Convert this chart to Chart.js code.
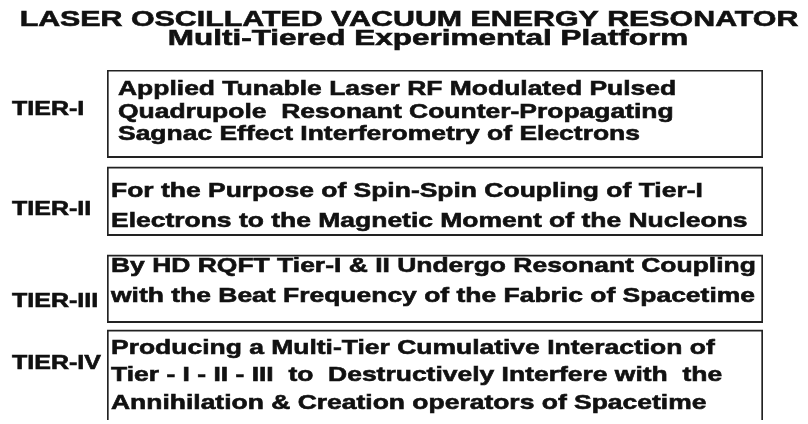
<!DOCTYPE html>
<html>
<head>
<meta charset="utf-8">
<style>
  html, body { margin: 0; padding: 0; background: #fff; }
  #wrap { width: 808px; height: 424px; }
</style>
<script src="https://cdn.jsdelivr.net/npm/chart.js@4/dist/chart.umd.min.js"></script>
</head>
<body>
<div id="wrap"><canvas id="c"></canvas></div>
<script>
// Tiered platform diagram drawn as floating horizontal bars (one box per tier).
const TITLE = "LASER OSCILLATED VACUUM ENERGY RESONATOR";
const SUBTITLE = "Multi-Tiered Experimental Platform";

const tiers = ["TIER-I", "TIER-II", "TIER-III", "TIER-IV"];
const spanStart = [0, 0, 0, 0];
const spanEnd = [100, 100, 100, 100];

const tier1Lines = [
  "Applied Tunable Laser RF Modulated Pulsed",
  "Quadrupole  Resonant Counter-Propagating",
  "Sagnac Effect Interferometry of Electrons",
];
const tier2Lines = [
  "For the Purpose of Spin-Spin Coupling of Tier-I",
  "Electrons to the Magnetic Moment of the Nucleons",
];
const tier3Lines = [
  "By HD RQFT Tier-I & II Undergo Resonant Coupling",
  "with the Beat Frequency of the Fabric of Spacetime",
];
const tier4Lines = [
  "Producing a Multi-Tier Cumulative Interaction of",
  "Tier - I - II - III  to  Destructively Interfere with  the",
  "Annihilation & Creation operators of Spacetime",
];
const boxLines = [tier1Lines, tier2Lines, tier3Lines, tier4Lines];

// ---- styles ----
const FONT = '"Liberation Sans", Arial, sans-serif';
const INK = "#111";
// the source art is stretched sideways, so every text run gets a width factor
const SX_TITLE = 1.38, SX_SUB = 1.43, SX_TIER = 1.25, SX_BOX = 1.26;
const BOX_H = [88, 69, 68, 93];
const LINE_H = [22.5, 30, 30, 27.5];
const INDENT = [11, 4, 4, 4];
const TEXT_DY = [-3, 4, -9, -2];
const LABEL_DY = [-6, 7, 11, -14];

function wideText(ctx, text, x, y, sx, align) {
  const w = ctx.measureText(text).width * sx;
  const left = align === "center" ? x - w / 2 : x;
  ctx.save();
  ctx.translate(left, y);
  ctx.scale(sx, 1);
  ctx.textAlign = "left";
  ctx.fillText(text, 0, 0);
  ctx.lineWidth = 0.6;
  ctx.strokeText(text, 0, 0);
  ctx.restore();
}

const labelsPlugin = {
  id: "tierText",
  afterDraw(chart) {
    const ctx = chart.ctx;
    ctx.save();
    ctx.fillStyle = INK;
    ctx.strokeStyle = INK;
    ctx.textBaseline = "alphabetic";

    ctx.font = `bold 22px ${FONT}`;
    wideText(ctx, TITLE, 409, 26, SX_TITLE, "center");
    ctx.font = `bold 22px ${FONT}`;
    wideText(ctx, SUBTITLE, 428, 45, SX_SUB, "center");

    const yScale = chart.scales.y;
    ctx.font = `bold 20px ${FONT}`;
    tiers.forEach((t, i) => {
      wideText(ctx, t, 12, yScale.getPixelForValue(i) + 7 + LABEL_DY[i], SX_TIER, "left");
    });

    ctx.font = `bold 21px ${FONT}`;
    chart.data.datasets.forEach((ds, i) => {
      const bar = chart.getDatasetMeta(i).data[i];
      const left = Math.min(bar.x, bar.base);
      const lines = boxLines[i];
      lines.forEach((line, k) => {
        const y = bar.y + (k - (lines.length - 1) / 2) * LINE_H[i] + 7 + TEXT_DY[i];
        wideText(ctx, line, left + INDENT[i], y, SX_BOX, "left");
      });
    });
    ctx.restore();
  },
};

new Chart(document.getElementById("c"), {
  type: "bar",
  data: {
    labels: tiers,
    datasets: tiers.map((t, i) => ({
      label: t,
      data: tiers.map((_, j) => (j === i ? [spanStart[i], spanEnd[i]] : null)),
      backgroundColor: "#fff",
      borderColor: "#222",
      borderWidth: 2,
      borderSkipped: false,
      barThickness: BOX_H[i],
      grouped: false,
    })),
  },
  options: {
    indexAxis: "y",
    responsive: true,
    maintainAspectRatio: false,
    animation: false,
    layout: { padding: { left: 107, right: 45, top: 70, bottom: 4 } },
    scales: {
      x: { display: false, min: 0, max: 100 },
      y: { display: false },
    },
    plugins: { legend: { display: false }, tooltip: { enabled: false } },
  },
  plugins: [labelsPlugin],
});
</script>
</body>
</html>
